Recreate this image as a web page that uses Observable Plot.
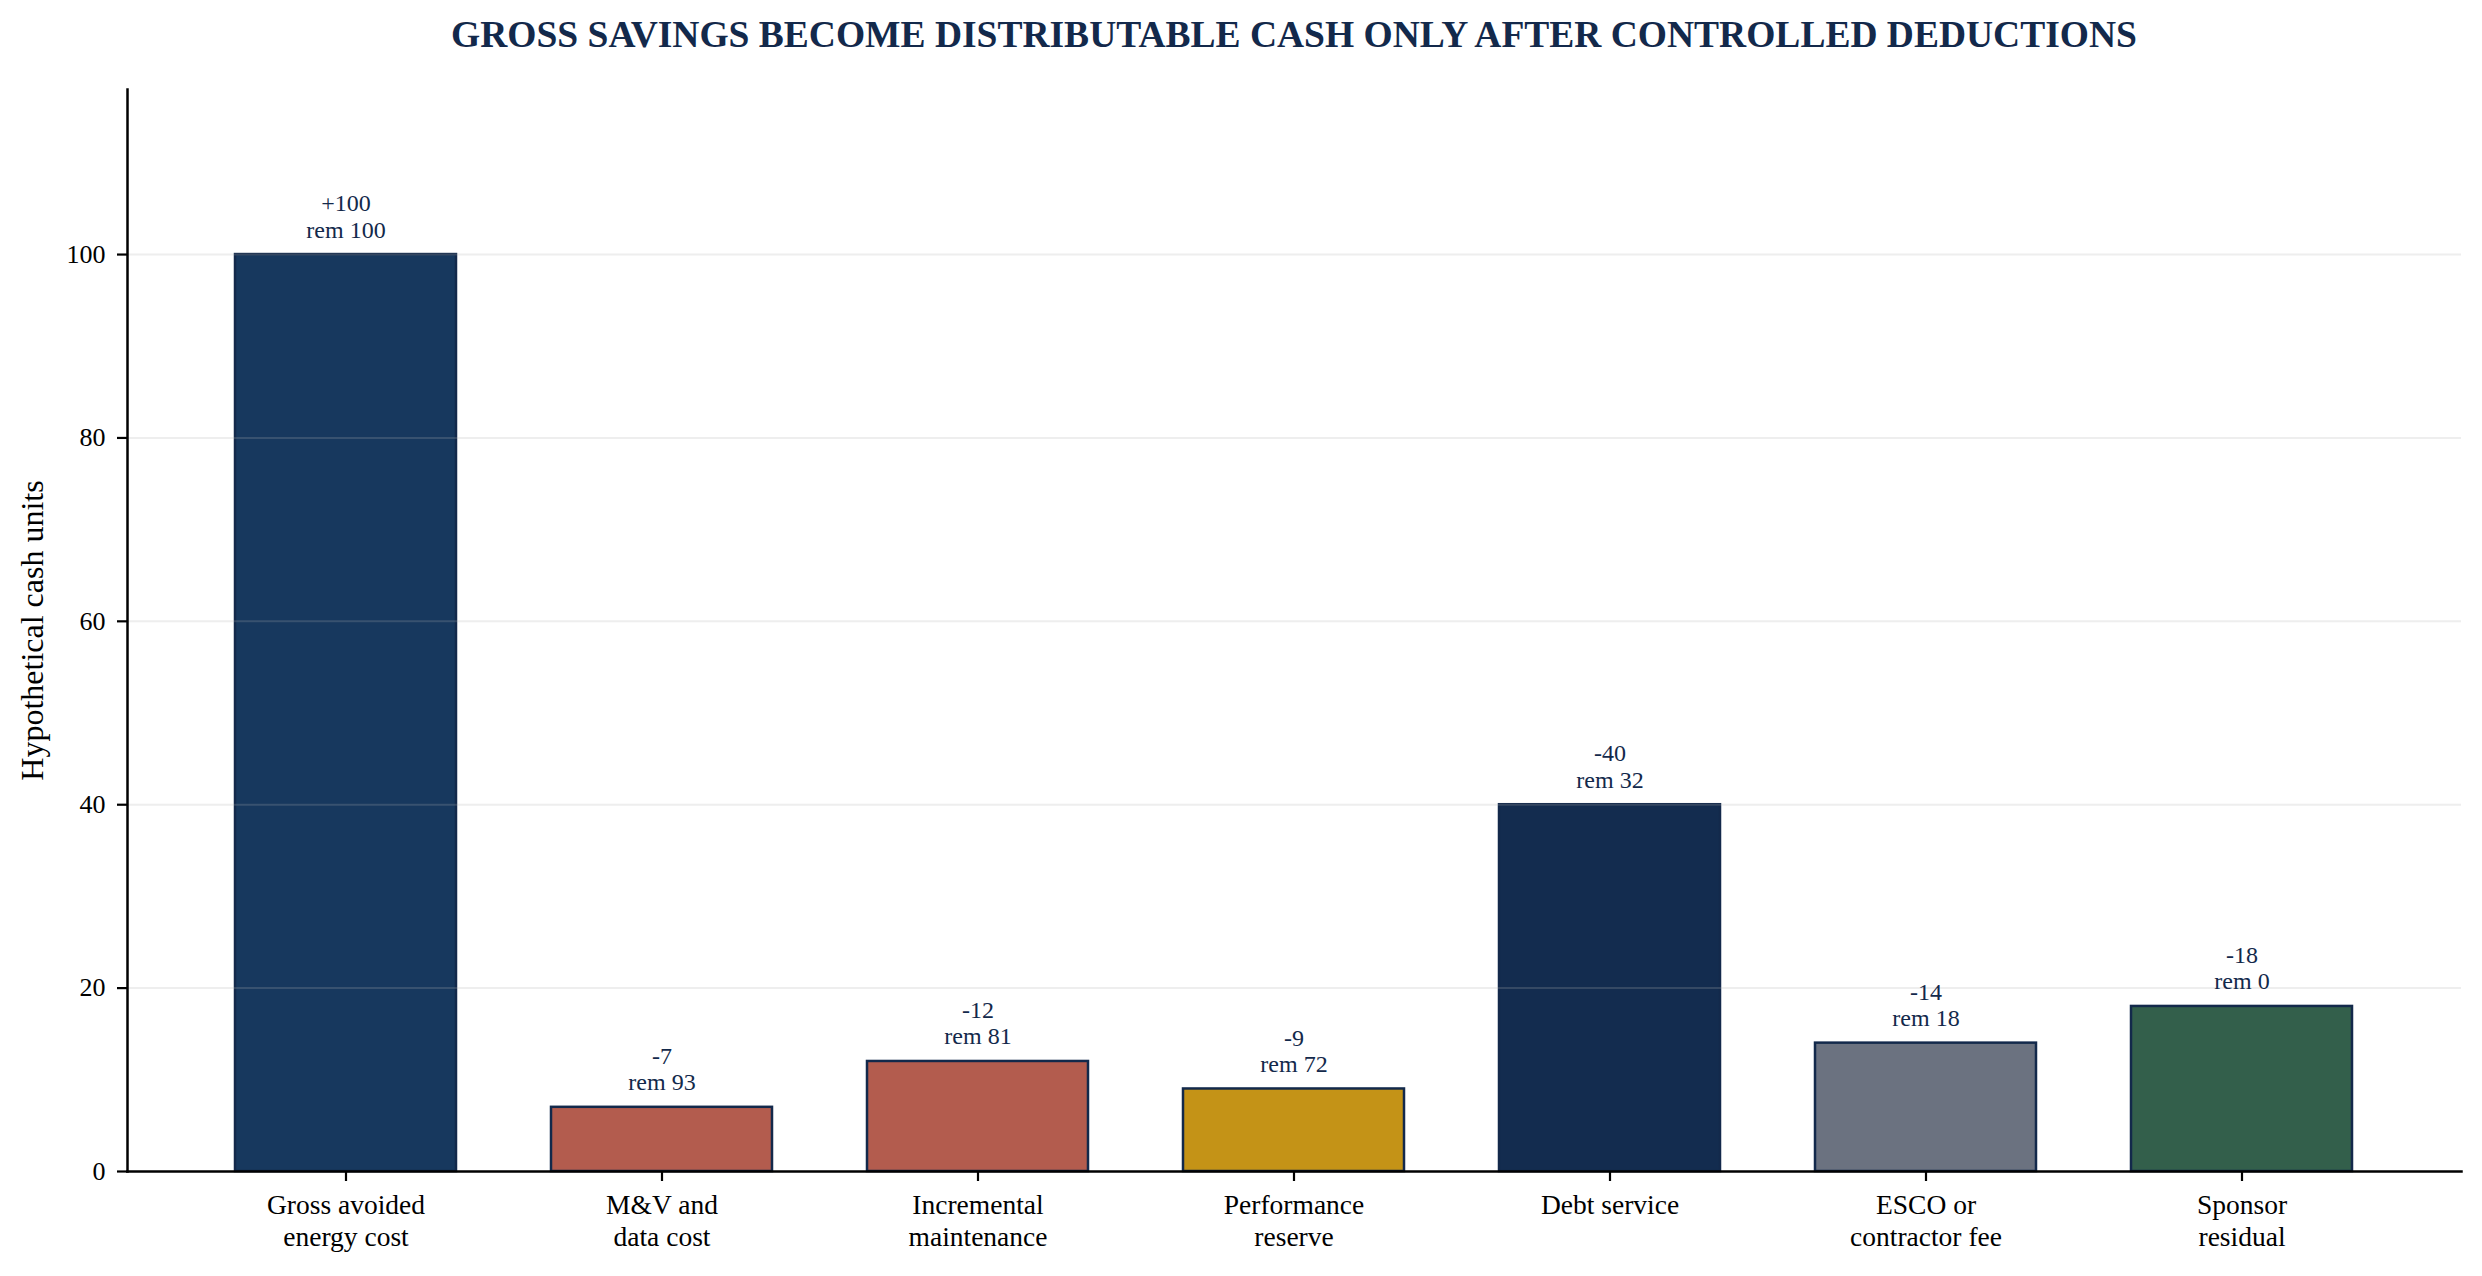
<!DOCTYPE html>
<html>
<head>
<meta charset="utf-8">
<script src="https://cdn.jsdelivr.net/npm/d3@7"></script>
<script src="https://cdn.jsdelivr.net/npm/@observablehq/plot@0.6"></script>
<style>
  html, body { margin: 0; padding: 0; background: #ffffff; }
  #title {
    height: 70px; line-height: 70px;
    box-sizing: border-box;
    padding-left: 127px; padding-right: 21px;
    width: 2482px;
    text-align: center;
    font-family: "Liberation Serif", "Times New Roman", serif;
    font-weight: bold; font-size: 37.5px; color: #13294b;
    white-space: nowrap;
  }
  svg { display: block; }
</style>
</head>
<body>
<div id="title">GROSS SAVINGS BECOME DISTRIBUTABLE CASH ONLY AFTER CONTROLLED DEDUCTIONS</div>
<div id="chart"></div>
<script>
const categories = [
  "Gross avoided\nenergy cost",
  "M&V and\ndata cost",
  "Incremental\nmaintenance",
  "Performance\nreserve",
  "Debt service",
  "ESCO or\ncontractor fee",
  "Sponsor\nresidual"
];
const amounts = [100, 7, 12, 9, 40, 14, 18];
const deltaLabels = ["+100", "-7", "-12", "-9", "-40", "-14", "-18"];
const remaining = [100, 93, 81, 72, 32, 18, 0];
const barColors = ["#17385e", "#b35c4e", "#b35c4e", "#c49317", "#132c4f", "#6b7280", "#335f4b"];
const yTicks = [0, 20, 40, 60, 80, 100];

const rows = categories.map((c, i) => ({
  category: c,
  amount: amounts[i],
  label: `${deltaLabels[i]}\nrem ${remaining[i]}`,
  color: barColors[i]
}));

const font = `"Liberation Serif", "Times New Roman", serif`;
const ink = "#13294b";

const chart = Plot.plot({
  width: 2482,
  height: 1206,
  marginTop: 19,
  marginBottom: 105,
  marginLeft: 127,
  marginRight: 21,
  style: { fontFamily: font, background: "#ffffff", color: "#000000" },
  x: { domain: categories, paddingInner: 0.3, paddingOuter: 0.3375, label: null },
  y: { domain: [0, 118], label: null },
  marks: [
    Plot.barY(rows, {
      x: "category", y: "amount",
      fill: "color", stroke: ink, strokeWidth: 2.5
    }),
    Plot.ruleY(yTicks.filter(d => d > 0), { stroke: "#b0b0b0", strokeOpacity: 0.22, strokeWidth: 2 }),
    Plot.text(rows, {
      x: "category", y: "amount", text: "label",
      lineAnchor: "bottom", lineHeight: 1.1, dy: -17,
      fontSize: 24, fill: ink, fontFamily: font
    }),
    Plot.axisY({
      ticks: yTicks, tickSize: 10, tickPadding: 12, fontSize: 26,
      label: null, stroke: "#000", strokeWidth: 2.2, fontFamily: font
    }),
    Plot.axisX({
      tickSize: 10, tickPadding: 10, fontSize: 27.5, lineHeight: 1.15,
      label: null, stroke: "#000", strokeWidth: 2.2, fontFamily: font
    }),
    Plot.frame({ anchor: "left", stroke: "#000", strokeWidth: 2.5 }),
    Plot.frame({ anchor: "bottom", stroke: "#000", strokeWidth: 2.5 }),
    Plot.text(["Hypothetical cash units"], {
      frameAnchor: "left", dx: -95, rotate: -90,
      lineAnchor: "middle", textAnchor: "middle",
      fontSize: 32, fill: "#000", fontFamily: font
    })
  ]
});
document.getElementById("chart").appendChild(chart);
</script>
</body>
</html>
